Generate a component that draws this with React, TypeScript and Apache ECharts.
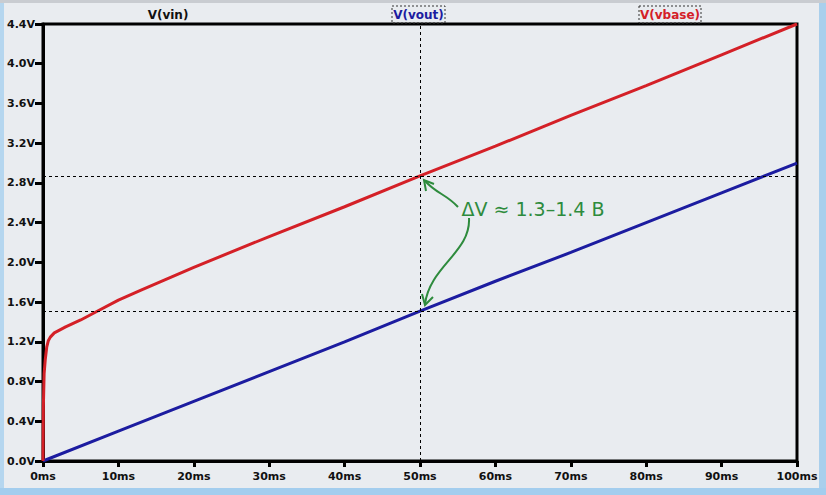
import React, { useEffect, useRef } from "react";
import * as echarts from "echarts";

const vbaseTime = [0, 0.05, 0.15, 0.3, 0.5, 0.7, 1, 1.5, 2, 3, 5, 7, 10, 13, 20, 30, 40, 50, 60, 70, 80, 90, 100];
const vbaseVals = [0, 0.55, 0.88, 1.02, 1.15, 1.21, 1.25, 1.29, 1.31, 1.35, 1.42, 1.5, 1.62, 1.72, 1.95, 2.26, 2.56, 2.87, 3.17, 3.48, 3.78, 4.09, 4.4];
const voutTime = [0, 10, 20, 30, 40, 50, 60, 70, 80, 90, 100];
const voutVals = [0, 0.3, 0.6, 0.9, 1.2, 1.51, 1.81, 2.1, 2.4, 2.7, 3.0];
const cursorX = 50;
const cursorLevels = [2.87, 1.51];
const legendNames = ["V(vin)", "V(vout)", "V(vbase)"];
const annotationText = "ΔV ≈ 1.3–1.4 В";

export default function App() {
  const ref = useRef<HTMLDivElement>(null);
  useEffect(() => {
    document.body.style.margin = "0";
    const chart = echarts.init(ref.current!, null, { renderer: "svg" });
    const green = "#2e8b3d";
    const labelFont = { fontFamily: "DejaVu Sans", fontWeight: "bold" as const, fontSize: 11, color: "#111" };
    chart.setOption({
      animation: false,
      backgroundColor: "#e9ecf0",
      grid: { left: 43, right: 29, top: 24, bottom: 34, show: true, borderColor: "#000", borderWidth: 3, backgroundColor: "#e9ecf0" },
      xAxis: {
        type: "value", min: 0, max: 100, interval: 10,
        axisLine: { show: true, lineStyle: { color: "#000", width: 3 } },
        axisTick: { show: true, length: 6, lineStyle: { color: "#000", width: 3 } },
        splitLine: { show: false },
        axisLabel: { ...labelFont, margin: 10, formatter: (v: number) => v + "ms" },
      },
      yAxis: {
        type: "value", min: 0, max: 4.4, interval: 0.4,
        axisLine: { show: true, lineStyle: { color: "#000", width: 3 } },
        axisTick: { show: true, length: 8, lineStyle: { color: "#000", width: 3 } },
        splitLine: { show: false },
        axisLabel: { ...labelFont, margin: 8, formatter: (v: number) => v.toFixed(1) + "V" },
      },
      series: [
        {
          name: legendNames[1], type: "line", symbol: "none",
          data: voutTime.map((t, i) => [t, voutVals[i]]),
          lineStyle: { color: "#1c1ca0", width: 3 },
          markLine: {
            silent: true, symbol: "none", label: { show: false },
            lineStyle: { color: "#000", type: [3, 3], width: 1 },
            data: [{ xAxis: cursorX }, ...cursorLevels.map((v) => ({ yAxis: v }))],
          },
          z: 3,
        },
        {
          name: legendNames[2], type: "line", symbol: "none",
          data: vbaseTime.map((t, i) => [t, vbaseVals[i]]),
          lineStyle: { color: "#d42027", width: 3 },
          z: 3,
        },
      ],
      graphic: [
        { type: "rect", shape: { x: 0, y: 0, width: 4, height: 495 }, style: { fill: "#b5d6ef" }, z: 100 },
        { type: "rect", shape: { x: 819, y: 0, width: 7, height: 495 }, style: { fill: "#a9cfec" }, z: 100 },
        { type: "rect", shape: { x: 0, y: 488, width: 826, height: 7 }, style: { fill: "#a3cdee" }, z: 100 },
        { type: "rect", shape: { x: 0, y: 0, width: 826, height: 3 }, style: { fill: "#c9ccd1" }, z: 100 },
        { type: "text", x: 168, y: 15, style: { text: legendNames[0], fill: "#111", font: "bold 12px 'DejaVu Sans'", align: "center", verticalAlign: "middle" } },
        { type: "rect", shape: { x: 392, y: 6, width: 53, height: 17 }, style: { fill: "none", stroke: "#333", lineWidth: 1, lineDash: [2, 2] } },
        { type: "text", x: 418.5, y: 15, style: { text: legendNames[1], fill: "#1c1ca0", font: "bold 12px 'DejaVu Sans'", align: "center", verticalAlign: "middle" } },
        { type: "rect", shape: { x: 639, y: 6, width: 62, height: 17 }, style: { fill: "none", stroke: "#333", lineWidth: 1, lineDash: [2, 2] } },
        { type: "text", x: 670, y: 15, style: { text: legendNames[2], fill: "#d42027", font: "bold 12px 'DejaVu Sans'", align: "center", verticalAlign: "middle" } },
        { type: "text", x: 533, y: 209, style: { text: annotationText, fill: green, font: "19px 'DejaVu Sans'", align: "center", verticalAlign: "middle" }, z: 10 },
        { type: "bezierCurve", shape: { x1: 458, y1: 207, cpx1: 446, cpy1: 194, cpx2: 437, cpy2: 194, x2: 425, y2: 181 }, style: { stroke: green, lineWidth: 2, fill: "none" }, z: 10 },
        { type: "polyline", shape: { points: [[426, 191], [424, 180], [434, 184]] }, style: { stroke: green, lineWidth: 2, fill: "none" }, z: 10 },
        { type: "bezierCurve", shape: { x1: 469, y1: 218, cpx1: 471, cpy1: 252, cpx2: 430, cpy2: 266, x2: 425, y2: 304 }, style: { stroke: green, lineWidth: 2, fill: "none" }, z: 10 },
        { type: "polyline", shape: { points: [[422, 294], [425, 305], [433, 297]] }, style: { stroke: green, lineWidth: 2, fill: "none" }, z: 10 },
      ],
    });
    return () => chart.dispose();
  }, []);
  return <div ref={ref} style={{ width: 826, height: 495 }} />;
}
